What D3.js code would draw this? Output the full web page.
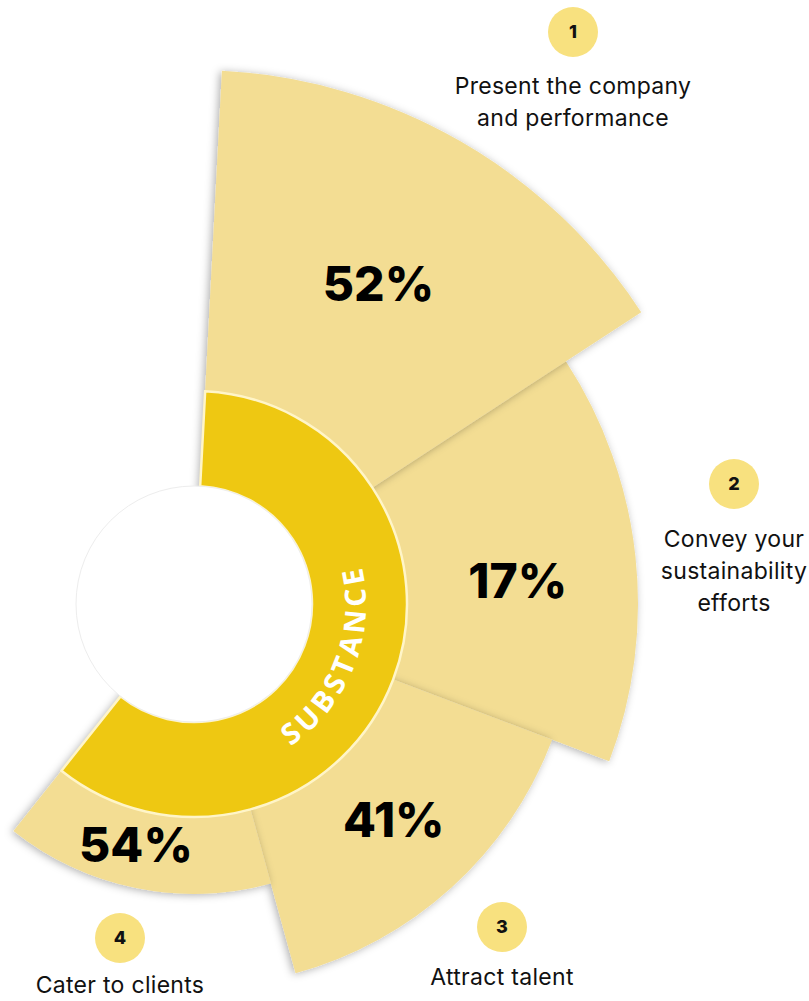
<!DOCTYPE html>
<html lang="en">
<head>
    <meta charset="UTF-8">
    <title>Substance</title>
    <script src="https://d3js.org/d3.v7.min.js"></script>
    <style>
        body { margin: 0; background: #fff; }
        svg { display: block; }
    </style>
</head>
<body>
    <div id="chart"></div>
    <script>
        // chart data
        const ranks = ["1", "2", "3", "4"];
        const shares = [52, 17, 41, 54];
        const labelLines = [
            ["Present the company", "and performance"],
            ["Convey your", "sustainability", "efforts"],
            ["Attract talent"],
            ["Cater to clients"]
        ];
        const ringLabel = "SUBSTANCE";

        const data = ranks.map((id, i) => ({ id, share: shares[i], lines: labelLines[i] }));

        const width = 809, height = 1001;
        const cx = 194, cy = 604;
        const deg = Math.PI / 180;

        const svg = d3.select("#chart").append("svg")
            .attr("width", width)
            .attr("height", height);

        const defs = svg.append("defs");
        defs.append("filter").attr("id", "shade")
            .attr("x", "-20%").attr("y", "-20%").attr("width", "140%").attr("height", "140%")
            .append("feDropShadow")
            .attr("dx", -2).attr("dy", 1)
            .attr("stdDeviation", 4.5)
            .attr("flood-color", "#000")
            .attr("flood-opacity", 0.32);

        const g = svg.append("g").attr("transform", `translate(${cx},${cy})`);

        // angular position of each sector, radius is decorative (by rank)
        const angle = d3.scaleBand().domain(ranks).range([3 * deg, 218.5 * deg]).padding(0);
        const radius = d3.scaleOrdinal().domain(ranks).range([534, 444, 383, 290]);
        const ringInner = 118, ringOuter = 213;

        const sector = d3.arc()
            .innerRadius(0)
            .outerRadius(d => radius(d.id))
            .startAngle(d => angle(d.id))
            .endAngle(d => angle(d.id) + angle.bandwidth());

        // label sits in the visible band, nudged a little like the original
        const nudge = { "1": 0, "2": 2 * deg, "3": -0.5 * deg, "4": 2 * deg };
        const labelArc = d3.arc()
            .innerRadius(ringOuter - 8)
            .outerRadius(d => radius(d.id))
            .startAngle(d => angle(d.id) + nudge[d.id])
            .endAngle(d => angle(d.id) + angle.bandwidth() + nudge[d.id]);

        // stacking: 2 lowest, then 3, 4, 1 on top
        const drawOrder = [1, 2, 3, 0].map(i => data[i]);

        g.selectAll("path.sector")
            .data(drawOrder)
            .join("path")
            .attr("class", "sector")
            .attr("d", sector)
            .attr("fill", "#F3DD93")
            .attr("filter", "url(#shade)");

        // inner ring
        g.append("path")
            .attr("d", d3.arc()
                .innerRadius(ringInner)
                .outerRadius(ringOuter)
                .startAngle(angle.range()[0])
                .endAngle(angle.range()[1])())
            .attr("fill", "#EEC812")
            .attr("stroke", "#FFF5C8")
            .attr("stroke-width", 2.5);

        // white hole
        g.append("circle")
            .attr("r", ringInner)
            .attr("fill", "#fff")
            .attr("stroke", "#ededed")
            .attr("stroke-width", 1);

        // ring label on a counter-clockwise arc
        const textR = 172;
        const a0 = 191 * deg - Math.PI / 2, a1 = 31 * deg - Math.PI / 2;
        const tp = d3.path();
        tp.moveTo(textR * Math.cos(a0), textR * Math.sin(a0));
        tp.arc(0, 0, textR, a0, a1, true);
        defs.append("path").attr("id", "ringPath")
            .attr("d", tp.toString())
            .attr("transform", `translate(${cx},${cy})`);

        svg.append("text")
            .attr("font-family", "'Open Sans', sans-serif")
            .attr("font-weight", 700)
            .attr("font-size", 29)
            .attr("letter-spacing", 4.5)
            .attr("fill", "#fff")
            .append("textPath")
            .attr("href", "#ringPath")
            .attr("startOffset", "50%")
            .attr("text-anchor", "middle")
            .text(ringLabel);

        // percentages
        g.selectAll("text.share")
            .data(data)
            .join("text")
            .attr("class", "share")
            .attr("transform", d => `translate(${labelArc.centroid(d)})`)
            .attr("text-anchor", "middle")
            .attr("dy", "0.36em")
            .attr("font-family", "Inter, sans-serif")
            .attr("font-weight", 800)
            .attr("font-size", 48)
            .attr("fill", "#000")
            .text(d => d.share + "%");

        // numbered callouts
        const callout = [
            { x: 573, y: 32, first: 94 },
            { x: 734, y: 484, first: 547 },
            { x: 502, y: 927, first: 985 },
            { x: 120, y: 938, first: 993 }
        ];
        const lineH = 32;

        const notes = svg.selectAll("g.note")
            .data(data)
            .join("g")
            .attr("class", "note");

        notes.append("circle")
            .attr("cx", (d, i) => callout[i].x)
            .attr("cy", (d, i) => callout[i].y)
            .attr("r", 25)
            .attr("fill", "#F8E17F");

        notes.append("text")
            .attr("x", (d, i) => callout[i].x)
            .attr("y", (d, i) => callout[i].y)
            .attr("dy", "0.36em")
            .attr("text-anchor", "middle")
            .attr("font-family", "Inter, sans-serif")
            .attr("font-weight", 800)
            .attr("font-size", 18)
            .attr("fill", "#111")
            .text(d => d.id);

        notes.append("text")
            .attr("text-anchor", "middle")
            .attr("font-family", "Inter, sans-serif")
            .attr("font-size", 23)
            .attr("letter-spacing", 0.3)
            .attr("fill", "#111")
            .selectAll("tspan")
            .data((d, i) => d.lines.map((t, k) => ({ t, k, i })))
            .join("tspan")
            .attr("x", d => callout[d.i].x)
            .attr("y", d => callout[d.i].first + d.k * lineH)
            .text(d => d.t);
    </script>
</body>
</html>
